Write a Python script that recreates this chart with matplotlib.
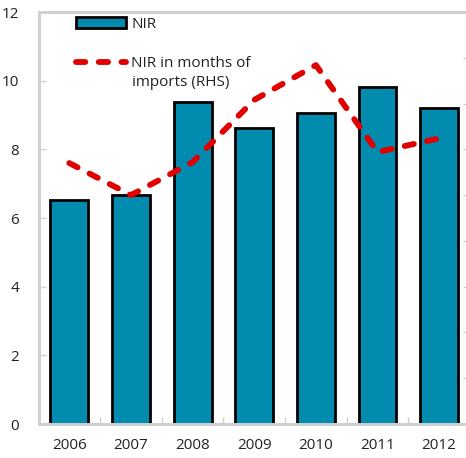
import numpy as np
import matplotlib
matplotlib.use("Agg")
import matplotlib.pyplot as plt
from matplotlib.lines import Line2D
from matplotlib.patches import Patch

# Data
years = ['2006', '2007', '2008', '2009', '2010', '2011', '2012']
nir = [6.52, 6.67, 9.38, 8.62, 9.06, 9.82, 9.20]  # left axis
nir_months = [2.85, 2.50, 2.86, 3.54, 3.92, 2.97, 3.12]  # right axis (RHS)

bar_color = '#008BAF'
line_color = '#E00000'
grey = '#D0D0D0'
dash = (0, (1.6, 2.3))

plt.rcParams['font.family'] = ['Open Sans', 'DejaVu Sans']
plt.rcParams['font.size'] = 11

W, H = 466, 458
fig = plt.figure(figsize=(W / 100, H / 100), dpi=100)
ax = fig.add_axes([38.5 / W, 1 - 424 / H, (470 - 38.5) / W, 412 / H])

x = np.arange(len(years))
ax.bar(x, nir, width=0.615, color=bar_color, edgecolor='black', linewidth=2, zorder=2)
ax.set_xlim(-0.5, len(years) - 0.5)
ax.set_ylim(0, 12)
ax.set_yticks(np.arange(0, 13, 2))
ax.set_xticks(x)
ax.set_xticklabels(years)
ax.set_xticks(np.arange(0.5, len(years) - 0.5, 1), minor=True)
ax.tick_params(axis='x', which='major', length=0, pad=10, labelcolor='#222222')
ax.tick_params(axis='x', which='minor', direction='in', length=5, color=grey, width=1)
ax.tick_params(axis='y', direction='in', length=5, color=grey, width=1, pad=14,
               labelcolor='#222222')
for s in ax.spines.values():
    s.set_color(grey)
    s.set_linewidth(2)

ax2 = ax.twinx()
ax2.plot(x, nir_months, color=line_color, linewidth=4.2, linestyle=dash,
         dash_capstyle='round', solid_joinstyle='round', zorder=3)
ax2.set_ylim(0, 4.5)
ax2.set_yticks(np.arange(0, 4.6, 0.5))
ax2.tick_params(axis='y', direction='in', length=5, color=grey, width=1, labelright=False)
for s in ax2.spines.values():
    s.set_color(grey)
    s.set_linewidth(2)

handles = [Patch(facecolor=bar_color, edgecolor='black', linewidth=2),
           Line2D([0], [0], color=line_color, linewidth=4.2, linestyle=dash,
                  dash_capstyle='round')]
labels = ['NIR', 'NIR in months of']
leg = ax2.legend(handles, labels, loc='upper left', bbox_to_anchor=(68 / W, 1 - 9 / H),
                 bbox_transform=fig.transFigure, frameon=False, handlelength=3.3,
                 handletextpad=0.35, labelspacing=1.6, borderpad=0, fontsize=11)
for t in leg.get_texts():
    t.set_color('#222222')
fig.text(132 / W, 1 - 83 / H, 'imports (RHS)', fontsize=11, color='#222222',
         ha='left', va='center')

fig.savefig('out.png', dpi=100)
